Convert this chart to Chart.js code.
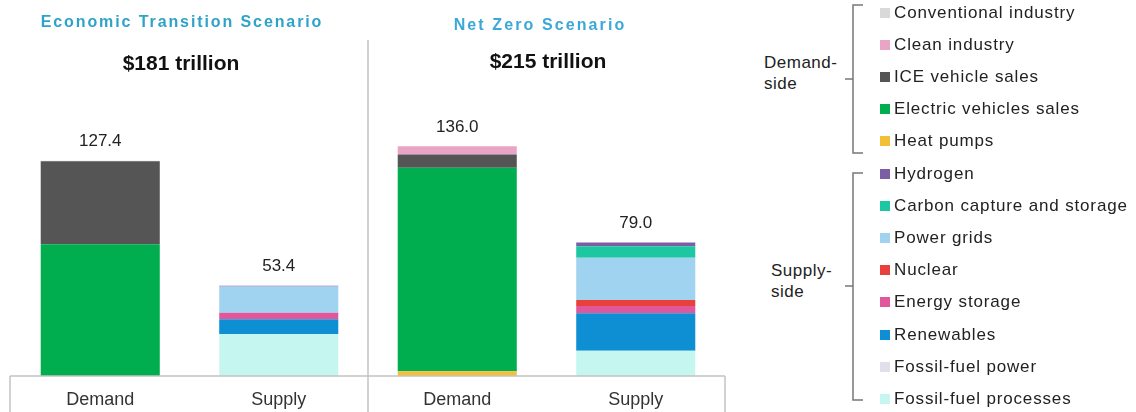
<!DOCTYPE html>
<html lang="en">
<head>
<meta charset="UTF-8">
<title>Investment by scenario</title>
<script src="https://cdn.jsdelivr.net/npm/chart.js"></script>
<style>
    body { margin: 0; background: white; font-family: "Liberation Sans", Arial, sans-serif; }
    #wrap { position: relative; width: 1136px; height: 412px; overflow: hidden; }
    #chart { position: absolute; left: 0; top: 0; }
    .scenario { position: absolute; font-weight: bold; font-size: 16px; letter-spacing: 1.9px; color: #2ea3c9; transform: translate(-50%, -50%); white-space: nowrap; }
    .total { position: absolute; font-weight: bold; font-size: 21px; color: #111; transform: translate(-50%, -50%); white-space: nowrap; }
    .item { position: absolute; left: 880px; height: 20px; line-height: 20px; font-size: 17px; letter-spacing: 0.85px; color: #222; white-space: nowrap; }
    .item i { display: inline-block; width: 10px; height: 10px; margin-right: 4px; vertical-align: 0px; }
    .group { position: absolute; font-size: 17px; line-height: 21px; color: #222; letter-spacing: 0.5px; }
    svg { position: absolute; left: 0; top: 0; }
</style>
</head>
<body>
<div id="wrap">
    <canvas id="chart" width="740" height="412"></canvas>
    <div class="scenario" style="left:182px; top:22px;">Economic Transition Scenario</div>
    <div class="scenario" style="left:540px; top:25px; font-weight:600; color:#3aa8d8; letter-spacing:2.1px;">Net Zero Scenario</div>
    <div class="total" style="left:181px; top:63px;">$181 trillion</div>
    <div class="total" style="left:548px; top:61px;">$215 trillion</div>
    <div class="group" style="left:764px; top:52px;">Demand-<br>side</div>
    <div class="group" style="left:771px; top:260px;">Supply-<br>side</div>
    <svg width="1136" height="412">
        <g fill="none" stroke="#777" stroke-width="1.5">
            <path d="M863 5 H853 V153 H863" />
            <path d="M845 79 H853" />
            <path d="M863 173 H853 V400 H863" />
            <path d="M845 286 H853" />
        </g>
    </svg>
    <div id="legend"></div>
</div>

<script>
    // bars: Economic Transition (Demand, Supply), Net Zero (Demand, Supply)
    const categories = ["Demand", "Supply", "Demand", "Supply"];

    // US$ trillion, per bar
    const conventionalIndustry = [0.4, 0, 0, 0];
    const cleanIndustry        = [0, 0, 4.9, 0];
    const iceVehicleSales      = [49.1, 0, 7.9, 0];
    const evSales              = [77.9, 0, 120.4, 0];
    const heatPumps            = [0, 0, 2.8, 0];
    const hydrogen             = [0, 0.5, 0, 2.2];
    const carbonCapture        = [0, 0, 0, 6.9];
    const powerGrids           = [0, 15.5, 0, 24.9];
    const nuclear              = [0, 0, 0, 3.6];
    const energyStorage        = [0, 3.8, 0, 4.3];
    const renewables           = [0, 8.7, 0, 22.1];
    const fossilPower          = [0, 0, 0, 0];
    const fossilProcesses      = [0, 24.9, 0, 15.0];

    // legend order, top to bottom (same as stack order from the top)
    const seriesNames = [
        "Conventional industry", "Clean industry", "ICE vehicle sales", "Electric vehicles sales",
        "Heat pumps", "Hydrogen", "Carbon capture and storage", "Power grids", "Nuclear",
        "Energy storage", "Renewables", "Fossil-fuel power", "Fossil-fuel processes"
    ];
    const seriesValues = [
        conventionalIndustry, cleanIndustry, iceVehicleSales, evSales, heatPumps, hydrogen,
        carbonCapture, powerGrids, nuclear, energyStorage, renewables, fossilPower, fossilProcesses
    ];
    const seriesColors = [
        "#d9d9d9", "#eaa5c6", "#555555", "#00ad4f", "#f2c037", "#7a5ea6",
        "#1cc7a2", "#9fd3ef", "#e8403a", "#e0589b", "#0f8fd3", "#dfe0ea", "#c6f6f0"
    ];

    // legend
    const legend = document.getElementById("legend");
    seriesNames.forEach((name, i) => {
        const d = document.createElement("div");
        d.className = "item";
        d.style.top = (12.5 + 32.2 * i - 10) + "px";
        d.innerHTML = `<i style="background:${seriesColors[i]}"></i>${name}`;
        legend.appendChild(d);
    });

    // Chart.js stacks the first dataset at the bottom, so reverse
    const datasets = seriesNames.map((name, i) => ({
        label: name,
        data: seriesValues[i],
        backgroundColor: seriesColors[i],
        borderWidth: 0,
        barPercentage: 0.667,
        categoryPercentage: 1
    })).reverse();

    const frame = {
        id: "frame",
        afterDraw(chart) {
            const ctx = chart.ctx, a = chart.chartArea;
            const x = chart.scales.x;
            const mid = (x.getPixelForValue(1) + x.getPixelForValue(2)) / 2;
            ctx.save();
            ctx.strokeStyle = "#c4c4c4";
            ctx.lineWidth = 1.5;
            ctx.beginPath();
            ctx.moveTo(a.left - 1, a.bottom); ctx.lineTo(a.right, a.bottom);
            ctx.moveTo(a.left - 1, a.bottom); ctx.lineTo(a.left - 1, chart.height);
            ctx.moveTo(a.right, a.bottom); ctx.lineTo(a.right, chart.height);
            ctx.moveTo(mid, a.top + 2); ctx.lineTo(mid, chart.height);
            ctx.stroke();
            ctx.restore();
        },
        afterDatasetsDraw(chart) {
            const ctx = chart.ctx;
            const x = chart.scales.x, y = chart.scales.y;
            ctx.save();
            ctx.font = "17px 'Liberation Sans', Arial, sans-serif";
            ctx.fillStyle = "#222";
            ctx.textAlign = "center";
            ctx.textBaseline = "middle";
            categories.forEach((c, i) => {
                const total = seriesValues.reduce((s, v) => s + v[i], 0);
                ctx.fillText(total.toFixed(1), x.getPixelForValue(i), y.getPixelForValue(total) - 19);
            });
            ctx.restore();
        }
    };

    new Chart(document.getElementById("chart"), {
        type: "bar",
        data: { labels: categories, datasets: datasets },
        options: {
            responsive: false,
            animation: false,
            layout: { padding: { left: 11, right: 15, top: 38, bottom: 0 } },
            plugins: { legend: { display: false }, tooltip: { enabled: false } },
            scales: {
                x: {
                    stacked: true,
                    grid: { display: false, drawTicks: false },
                    border: { display: false },
                    ticks: { color: "#333", padding: 13, font: { size: 18, family: "'Liberation Sans', Arial, sans-serif" } },
                    afterFit(scale) { scale.height = 36; }
                },
                y: {
                    stacked: true,
                    display: false,
                    min: 0,
                    max: 200
                }
            }
        },
        plugins: [frame]
    });
</script>
</body>
</html>
